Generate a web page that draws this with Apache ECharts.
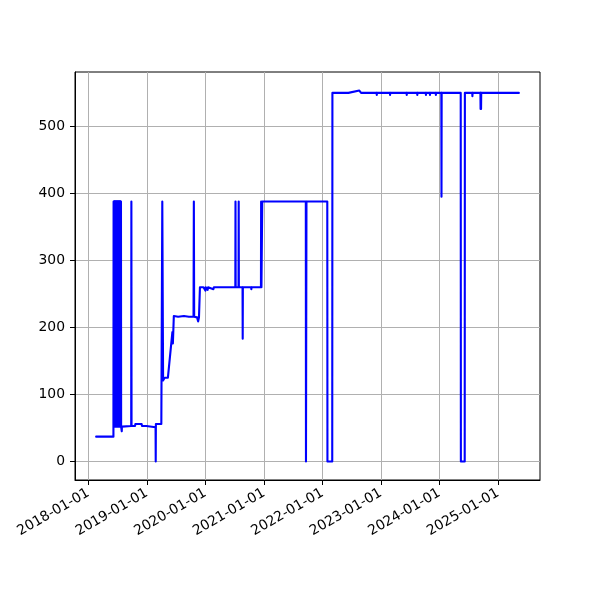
<!DOCTYPE html>
<html>
<head>
<meta charset="utf-8">
<script src="https://cdn.jsdelivr.net/npm/echarts@6/dist/echarts.min.js"></script>
<style>
  html, body { margin: 0; padding: 0; background: #fff; }
  #chart { width: 600px; height: 600px; }
</style>
</head>
<body>
<div id="chart"></div>
<script>
// ---- data ----
const dates = [
  '2018-02-18','2018-06-06',
  '2018-06-07','2018-06-08','2018-06-09','2018-06-10','2018-06-11','2018-06-12','2018-06-13','2018-06-14',
  '2018-06-15','2018-06-16','2018-06-17','2018-06-18','2018-06-19','2018-06-20','2018-06-21','2018-06-22',
  '2018-06-23','2018-06-24','2018-06-25','2018-06-26','2018-06-27','2018-06-28','2018-06-29','2018-06-30',
  '2018-07-01','2018-07-02','2018-07-03','2018-07-04','2018-07-05','2018-07-06','2018-07-07','2018-07-08',
  '2018-07-09','2018-07-10','2018-07-11','2018-07-12','2018-07-13','2018-07-14','2018-07-15','2018-07-16',
  '2018-07-17','2018-07-18','2018-07-19','2018-07-20','2018-07-21','2018-07-22','2018-07-23','2018-07-24',
  '2018-07-25','2018-07-27','2018-07-28','2018-07-29','2018-09-25',
  '2018-09-26','2018-09-27','2018-10-19','2018-10-21','2018-11-29','2018-12-01','2018-12-28','2018-12-30',
  '2019-02-24','2019-02-25','2019-02-26','2019-04-01','2019-04-07','2019-04-12','2019-04-16','2019-04-22',
  '2019-05-12','2019-06-09','2019-06-12','2019-06-15','2019-06-18','2019-07-15','2019-08-20','2019-09-20',
  '2019-10-19','2019-10-21','2019-10-23','2019-11-10','2019-11-17','2019-11-22','2019-11-28','2019-12-20',
  '2020-01-01','2020-01-03','2020-01-15','2020-01-18','2020-02-20','2020-02-23','2020-07-06','2020-07-07',
  '2020-07-08','2020-07-26','2020-07-27','2020-07-28','2020-08-20','2020-08-21','2020-08-22','2020-10-13',
  '2020-10-14','2020-10-15','2020-12-13','2020-12-14','2020-12-16','2020-12-20','2020-12-21','2021-03-12',
  '2021-03-13','2021-03-14','2021-09-19','2021-09-20','2021-09-23','2021-11-05','2021-11-06','2021-11-07',
  '2022-01-31','2022-02-01','2022-03-03','2022-03-04','2022-06-12','2022-08-19','2022-08-30','2022-12-05',
  '2022-12-06','2022-12-07','2023-02-26','2023-02-27','2023-02-28','2023-06-10','2023-06-11','2023-06-12',
  '2023-08-15','2023-08-16','2023-08-17','2023-10-08','2023-10-09','2023-10-10','2023-11-02','2023-11-03',
  '2023-11-04','2023-12-09','2023-12-10','2023-12-11','2024-01-13','2024-01-14','2024-01-15','2024-05-13',
  '2024-05-14','2024-06-07','2024-06-08','2024-07-24','2024-07-25','2024-07-26','2024-09-13','2024-09-14',
  '2024-09-15','2024-09-17','2024-09-18','2025-05-11'
];
const values = [
  37, 37,
  388, 53, 388, 52, 388, 54, 388, 52,
  388, 53, 388, 52, 388, 54, 388, 52,
  388, 53, 388, 52, 388, 53, 388, 52,
  388, 54, 388, 52, 388, 53, 388, 52,
  388, 54, 388, 52, 388, 53, 388, 52,
  388, 53, 388, 52, 388, 54, 388, 52,
  52, 52, 45, 52, 53,
  388, 53, 53, 56, 56, 53, 53, 51,
  51, 0, 56, 56, 388, 121, 121, 125,
  125, 193, 176, 196, 217, 216, 217, 216,
  216, 388, 216, 215, 209, 215, 260, 260,
  255, 260, 256, 260, 257, 260, 260, 388,
  260, 260, 388, 260, 260, 183, 260, 260,
  257, 260, 260, 388, 260, 260, 388, 388,
  386, 388, 388, 0, 388, 388, 386, 388,
  388, 0, 0, 550, 550, 553.5, 550, 550,
  547, 550, 550, 547, 550, 550, 547, 550,
  550, 547, 550, 550, 547, 550, 550, 547,
  550, 550, 547, 550, 550, 395, 550, 550,
  0, 0, 550, 550, 545, 550, 550, 526,
  550, 526, 550, 550
];
const xTickLabels = ['2018-01-01','2019-01-01','2020-01-01','2021-01-01','2022-01-01','2023-01-01','2024-01-01','2025-01-01'];
const yTickValues = [0, 100, 200, 300, 400, 500];

// ---- build ----
const toTs = s => Date.parse(s + 'T00:00:00Z');
const seriesData = dates.map((d, i) => [toTs(d), values[i]]);
const xs = seriesData.map(p => p[0]);
const ys = values;
const xMin0 = Math.min(...xs), xMax0 = Math.max(...xs);
const yMin0 = Math.min(...ys), yMax0 = Math.max(...ys);
const xPad = (xMax0 - xMin0) * 0.05, yPad = (yMax0 - yMin0) * 0.05;
const xTicks = xTickLabels.map(toTs);

const FONT = 'DejaVu Sans';
const chart = echarts.init(document.getElementById('chart'), null, { renderer: 'canvas' });
chart.setOption({
  animation: false,
  backgroundColor: '#ffffff',
  grid: {
    left: 75, right: 60, top: 72, bottom: 120,
    show: true, borderColor: '#000', borderWidth: 1, backgroundColor: 'transparent'
  },
  xAxis: {
    type: 'value',
    min: xMin0 - xPad,
    max: xMax0 + xPad,
    axisLine: { show: true, onZero: false, lineStyle: { color: '#000', width: 1 } },
    axisTick: { show: true, inside: false, length: 5, customValues: xTicks, lineStyle: { color: '#000', width: 1 } },
    axisLabel: {
      show: true, customValues: xTicks, rotate: 30, margin: 12,
      color: '#000', fontFamily: FONT, fontSize: 13.9,
      formatter: v => new Date(v).toISOString().slice(0, 10)
    },
    splitLine: { show: true, lineStyle: { color: '#b0b0b0', width: 1 } }
  },
  yAxis: {
    type: 'value',
    min: yMin0 - yPad,
    max: yMax0 + yPad,
    axisLine: { show: true, onZero: false, lineStyle: { color: '#000', width: 1 } },
    axisTick: { show: true, inside: false, length: 5, customValues: yTickValues, lineStyle: { color: '#000', width: 1 } },
    axisLabel: {
      show: true, customValues: yTickValues, margin: 10,
      color: '#000', fontFamily: FONT, fontSize: 13.9
    },
    splitLine: { show: true, lineStyle: { color: '#b0b0b0', width: 1 } }
  },
  series: [{
    type: 'line',
    data: seriesData,
    showSymbol: false,
    symbol: 'none',
    sampling: null,
    lineStyle: { color: '#0000ff', width: 2.1, join: 'round', cap: 'round' },
    itemStyle: { color: '#0000ff' }
  }]
});
</script>
</body>
</html>
